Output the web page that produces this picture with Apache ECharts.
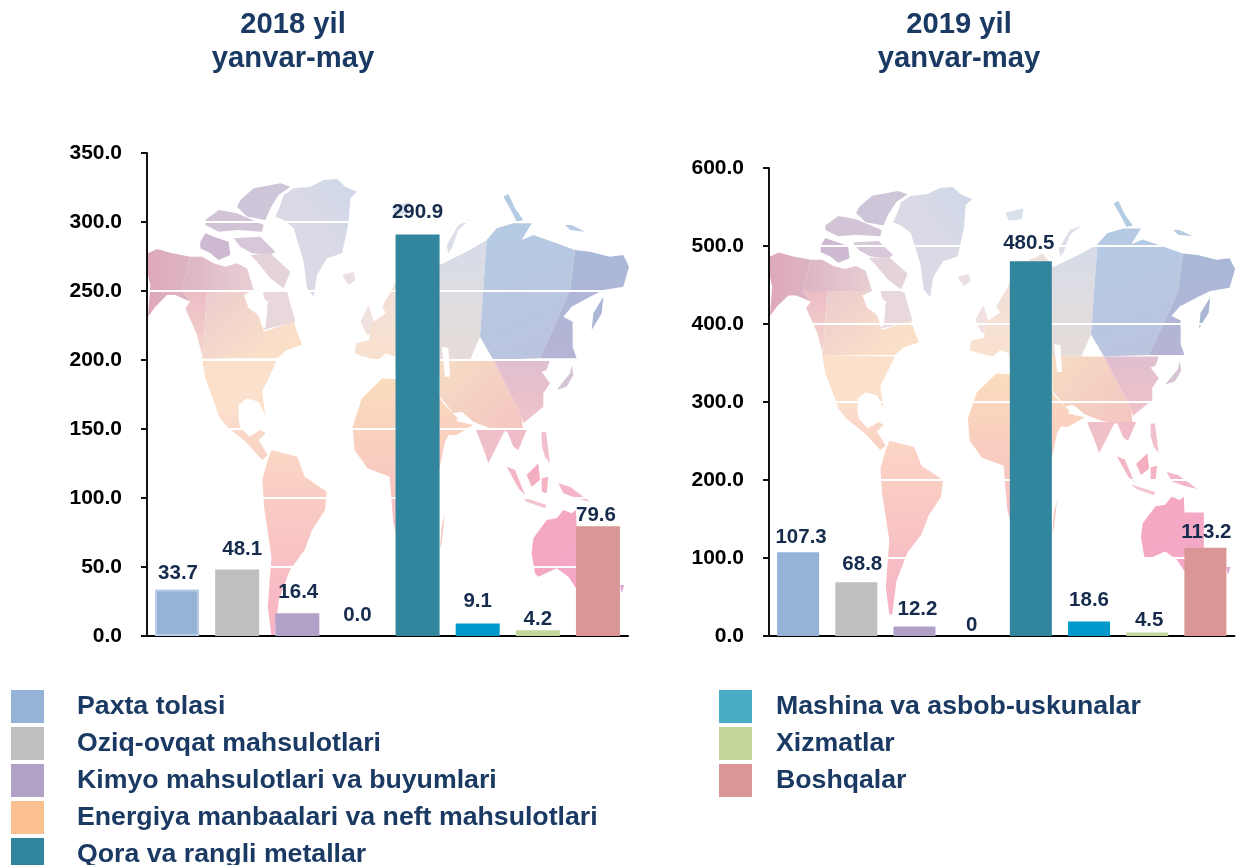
<!DOCTYPE html>
<html>
<head>
<meta charset="utf-8">
<title>Eksport tarkibi</title>
<script src="https://cdn.jsdelivr.net/npm/echarts@6/dist/echarts.min.js"></script>
<style>
  html, body { margin: 0; padding: 0; background: #fff; }
  #chart { width: 1242px; height: 865px; }
</style>
</head>
<body>
<div id="chart"></div>
<script>
var categories = ['Paxta tolasi', 'Oziq-ovqat mahsulotlari', 'Kimyo mahsulotlari va buyumlari', 'Energiya manbaalari va neft mahsulotlari', 'Qora va rangli metallar', 'Mashina va asbob-uskunalar', 'Xizmatlar', 'Boshqalar'];
var values2018 = [33.7, 48.1, 16.4, 0, 290.9, 9.1, 4.2, 79.6];
var values2019 = [107.3, 68.8, 12.2, 0, 480.5, 18.6, 4.5, 113.2];
var labels2018 = ['33.7', '48.1', '16.4', '0.0', '290.9', '9.1', '4.2', '79.6'];
var labels2019 = ['107.3', '68.8', '12.2', '0', '480.5', '18.6', '4.5', '113.2'];
var barColors = ['#95B3D7', '#BFBFBF', '#B2A1C7', '#FAC090', '#31859C', '#0099CC', '#C3D69B', '#D99694'];
var legendColors = ['#95B3D7', '#BFBFBF', '#B2A1C7', '#FAC090', '#31859C', '#4BACC6', '#C3D69B', '#D99694'];

// hand placed data labels in the source slide
var labelShift2018 = [[1, -6], [5, -10], [1, -11], [0, -10], [0, -12], [0, -12], [0, 0], [-2, 0]];
var labelShift2019 = [[3, -4], [6, -7], [3, -7], [-1, 0], [-2, -7], [0, -11], [2, -2], [1, -5]];

var FONT = '"Liberation Sans", Arial, sans-serif';

// background world map, traced outlines, only decoration
function grad(x2, y2, from, to) {
  return { type: 'linear', x: 0, y: 0, x2: x2, y2: y2, colorStops: [{ offset: 0, color: from }, { offset: 1, color: to }] };
}
// outlines were traced on crops of the left map, turn them into left chart pixels
function cropA(pts) { return pts.map(function (p) { return [147 + p[0] / 3, 175 + p[1] / 3]; }); }
function cropB(pts) { return pts.map(function (p) { return [390 + p[0] / 3, 190 + p[1] / 3]; }); }
function cropC(pts) { return pts.map(function (p) { return [390 + p[0] / 3, 430 + p[1] / 3]; }); }
function cropZ(pts) { return pts.map(function (p) { return [60.96 + p[0] / 2.708, 140 + p[1] / 3]; }); }

var worldMap = [
  // greenland
  { fill: grad(1, -0.5, '#dcd9e6', '#c5d8ea'), pts: cropA([[410,60],[440,40],[490,35],[530,15],[570,12],[595,35],[630,50],[610,70],[605,140],[595,190],[585,235],[540,250],[510,300],[500,365],[480,340],[470,260],[455,210],[440,160],[410,135],[385,125],[400,90]]) },
  // arctic islands
  { fill: '#cfc5d9', pts: cropA([[280,75],[320,40],[400,25],[430,35],[395,60],[370,100],[355,135],[300,125],[270,95]]) },
  { fill: '#d2c3d6', pts: cropA([[175,135],[215,105],[270,115],[350,150],[345,170],[270,165],[215,170],[175,150]]) },
  { fill: '#cdb9d2', pts: cropA([[160,200],[175,175],[200,185],[245,200],[250,240],[215,255],[190,235],[160,220]]) },
  { fill: '#d6c8d8', pts: cropA([[260,190],[340,185],[385,230],[370,240],[315,235],[280,215]]) },
  { fill: '#e4d3da', pts: cropA([[310,240],[370,235],[430,290],[410,340],[370,310],[330,260]]) },
  // north america in facets
  { fill: grad(1, 0, '#dfa8bc', '#dcb4c4'), pts: cropA([[3,235],[30,222],[75,235],[130,245],[105,345],[130,380],[85,360],[60,360],[25,395],[3,425],[10,330],[3,300]]) },
  { fill: grad(1, 0, '#dcb4c2', '#e8cfd4'), pts: cropA([[130,245],[165,245],[200,265],[235,275],[270,265],[300,280],[320,345],[180,345],[105,345]]) },
  { fill: grad(0, 1, '#ecbcc6', '#f4d4cc'), pts: cropA([[105,345],[180,345],[170,520],[165,540],[150,480],[115,400],[130,380]]) },
  { fill: grad(0.6, 1, '#ebcbcf', '#fae0c8'), pts: cropA([[180,345],[320,345],[300,380],[340,430],[350,470],[440,440],[465,510],[420,525],[390,550],[165,550],[170,520]]) },
  { fill: '#e9d8db', pts: cropA([[300,345],[405,345],[420,350],[445,440],[350,465],[345,420],[365,380]]) },
  { fill: '#ffffff', pts: cropA([[290,360],[320,345],[345,340],[355,380],[362,400],[355,460],[345,455],[335,420],[305,400]]) },
  { fill: '#fbe0cc', pts: cropA([[165,550],[390,555],[365,610],[345,650],[355,720],[335,680],[300,670],[275,690],[275,720],[215,720],[175,610]]) },
  { fill: grad(0, 1, '#fbdccb', '#f9d2c4'), pts: cropZ([[425,825],[479,825],[485,860],[510,890],[540,870],[555,880],[535,900],[560,945],[545,960],[500,905],[450,860]]) },
  // iceland, uk
  { fill: '#ecdfe3', pts: cropA([[585,300],[620,290],[625,315],[605,330]]) },
  { fill: '#f1e2df', pts: cropA([[640,440],[665,390],[690,470],[660,480]]) },
  // south america
  { fill: grad(0, 1, '#fbd6c4', '#f6b2c4'), pts: cropZ([[570,930],[640,950],[660,1010],[720,1055],[715,1110],[680,1170],[660,1230],[620,1290],[590,1380],[578,1487],[570,1487],[560,1400],[570,1250],[550,1100],[545,1020],[560,960]]) },
  // africa
  { fill: grad(0, 1, '#fbdcbc', '#f6bcc4'), pts: cropZ([[790,860],[815,775],[870,715],[1000,725],[1035,790],[1075,835],[1040,905],[1025,985],[1000,1100],[960,1180],[920,1230],[900,1150],[890,1010],[830,985],[795,930]]) },
  { fill: '#f6c8c0', pts: cropC([[155,290],[165,250],[155,340],[150,355]]) },
  // europe
  { fill: grad(0, 1, '#eededf', '#fbe2cc'), pts: cropZ([[870,500],[900,440],[930,370],[1000,330],[1030,375],[1030,640],[1060,690],[1030,700],[908,700],[905,650],[880,640],[860,660],[820,650],[795,640],[800,610],[835,600],[840,550],[880,520]]) },
  // russia in facets
  { fill: grad(0, 1, '#d6dce9', '#e6dcd8'), pts: cropB([[150,225],[190,205],[240,180],[290,150],[270,440],[240,510],[150,510]]) },
  { fill: grad(0.6, 1, '#b4cbe4', '#bcc4de'), pts: cropB([[290,150],[320,115],[370,100],[425,100],[395,150],[430,135],[500,160],[555,180],[540,300],[450,505],[310,510],[270,440]]) },
  { fill: grad(0, 1, '#a9b8d8', '#b6b4d4'), pts: cropB([[555,180],[600,185],[660,200],[700,195],[717,230],[700,290],[640,300],[600,320],[545,350],[520,380],[548,395],[548,470],[560,505],[450,505],[540,300]]) },
  // central and south asia
  { fill: grad(1, 1, '#f6dcc4', '#f4c4c0'), pts: cropB([[150,510],[310,510],[395,680],[400,735],[300,715],[250,695],[215,665],[190,670],[150,620]]) },
  { fill: grad(0, 1, '#e0bfd0', '#f0c2c8'), pts: cropB([[310,510],[480,510],[470,540],[455,545],[480,580],[460,610],[460,650],[400,700],[395,680]]) },
  { fill: '#fbd2c0', pts: cropB([[150,650],[185,690],[250,705],[200,735],[160,735]]) },
  { fill: '#ffffff', pts: cropB([[155,470],[175,475],[180,560],[165,560]]) },
  { fill: '#f0c0c8', pts: cropC([[258,0],[345,0],[295,100],[285,70]]) },
  { fill: '#efbcc8', pts: cropC([[350,0],[410,0],[385,60],[370,50]]) },
  // islands around russia and japan
  { fill: '#dcdfe9', pts: cropB([[170,165],[205,105],[240,90],[205,120],[185,175],[175,190]]) },
  { fill: '#b4cbe4', pts: cropB([[340,20],[355,12],[375,55],[400,90],[380,95],[360,55]]) },
  { fill: '#b9cbe2', pts: cropB([[525,105],[545,105],[585,125],[540,120]]) },
  { fill: '#d8e0ec', pts: cropB([[5,50],[60,35],[55,70],[15,75]]) },
  { fill: '#a9b6d6', pts: cropB([[605,420],[610,370],[640,320],[635,370]]) },
  { fill: '#d6c4d4', pts: cropB([[500,600],[540,550],[545,525],[550,555],[530,590]]) },
  // indonesia, philippines, new guinea
  { fill: '#f2c0cc', pts: cropC([[455,5],[468,5],[480,100],[465,80],[455,45]]) },
  { fill: '#f4b5c4', pts: cropC([[350,110],[375,120],[405,195],[385,175]]) },
  { fill: '#f3aebf', pts: cropC([[410,135],[445,100],[450,150],[425,170]]) },
  { fill: '#f3b4c4', pts: cropC([[455,145],[475,140],[470,190],[455,185]]) },
  { fill: '#f4b6c8', pts: cropC([[505,160],[540,170],[600,215],[560,205],[520,190]]) },
  { fill: '#f6c4cf', pts: cropC([[395,200],[470,225],[465,235],[410,215]]) },
  // australia and tasmania
  { fill: grad(1, 1, '#f5a8c0', '#f3a8c8'), pts: cropC([[430,325],[470,270],[500,265],[520,240],[545,250],[558,240],[560,290],[620,290],[620,470],[558,475],[535,440],[500,415],[445,440],[435,430],[425,370]]) },
  { fill: '#dda9d0', pts: cropC([[690,465],[703,465],[695,490]]) }
];

function mapGroup(x, y, scaleX, scaleY) {
  return {
    type: 'group', x: x, y: y, scaleX: scaleX, scaleY: scaleY, silent: true,
    children: worldMap.map(function (s) {
      return { type: 'polygon', z: -5, silent: true, shape: { points: s.pts }, style: { fill: s.fill } };
    })
  };
}

function buildSeries(values, labels, shifts, axisIndex, barWidth) {
  return categories.map(function (name, i) {
    var data = categories.map(function () { return null; });
    data[i] = values[i];
    var style = { color: barColors[i] };
    // first bar of the 2018 chart has a pale edge in the slide
    if (axisIndex === 0 && i === 0) {
      style.borderColor = '#B9CDE9';
      style.borderWidth = 2;
    }
    return {
      name: name,
      type: 'bar',
      xAxisIndex: axisIndex,
      yAxisIndex: axisIndex,
      stack: 'y' + axisIndex,
      barWidth: barWidth,
      itemStyle: style,
      label: {
        show: true,
        position: 'top',
        distance: 0,
        offset: shifts[i],
        formatter: labels[i],
        fontFamily: FONT,
        fontWeight: 'bold',
        fontSize: 20.5,
        color: '#172B4D'
      },
      data: data
    };
  });
}

function buildLegend(names, left, padLeft) {
  return {
    type: 'plain',
    orient: 'vertical',
    left: left,
    top: 690,
    height: 220,
    padding: 0,
    itemWidth: 33,
    itemHeight: 33,
    itemGap: 4,
    icon: 'rect',
    selectedMode: false,
    textStyle: { fontFamily: FONT, fontWeight: 'bold', fontSize: 26.7, color: '#1B3A63', padding: [0, 0, 0, padLeft] },
    data: names.map(function (n) {
      return { name: n, itemStyle: { color: legendColors[categories.indexOf(n)], borderWidth: 0 } };
    })
  };
}

function valueAxis(gridIndex, max, interval) {
  return {
    type: 'value',
    gridIndex: gridIndex,
    min: 0,
    max: max,
    interval: interval,
    axisLine: { show: true, lineStyle: { color: '#111', width: 2 } },
    axisTick: { show: true, length: 6, lineStyle: { color: '#111', width: 2 } },
    axisLabel: {
      margin: 25,
      fontFamily: FONT,
      fontWeight: 'bold',
      fontSize: 21,
      color: '#000',
      padding: [3, 0, 0, 0],
      formatter: function (v) { return v.toFixed(1); }
    },
    splitLine: { show: true, lineStyle: { color: '#fff', width: 2 } }
  };
}

function catAxis(gridIndex) {
  return {
    type: 'category',
    gridIndex: gridIndex,
    data: categories,
    axisLine: { show: true, onZero: true, lineStyle: { color: '#000', width: 2 } },
    axisTick: { show: false },
    axisLabel: { show: false }
  };
}

var titleStyle = { fontFamily: FONT, fontWeight: 'bold', fontSize: 29.2, lineHeight: 34, color: '#1B3A63', align: 'center' };

var option = {
  animation: false,
  backgroundColor: '#fff',
  title: [
    { text: '2018 yil\nyanvar-may', left: 293, top: 8, textAlign: 'center', padding: 0, textStyle: titleStyle },
    { text: '2019 yil\nyanvar-may', left: 959, top: 8, textAlign: 'center', padding: 0, textStyle: titleStyle }
  ],
  grid: [
    { left: 147, top: 153, width: 481, height: 483, containLabel: false },
    { left: 769, top: 168, width: 465.5, height: 468, containLabel: false }
  ],
  xAxis: [catAxis(0), catAxis(1)],
  yAxis: [valueAxis(0, 350, 50), valueAxis(1, 600, 100)],
  legend: [
    buildLegend(categories.slice(0, 5), 11, 28),
    buildLegend(categories.slice(5), 719, 19)
  ],
  graphic: {
    elements: [
      mapGroup(0, 0, 1, 1),
      mapGroup(626.85, 19.5, 0.967, 0.936)
    ]
  },
  series: buildSeries(values2018, labels2018, labelShift2018, 0, 44)
    .concat(buildSeries(values2019, labels2019, labelShift2019, 1, 42))
};

var chart = echarts.init(document.getElementById('chart'));
chart.setOption(option);
</script>
</body>
</html>
